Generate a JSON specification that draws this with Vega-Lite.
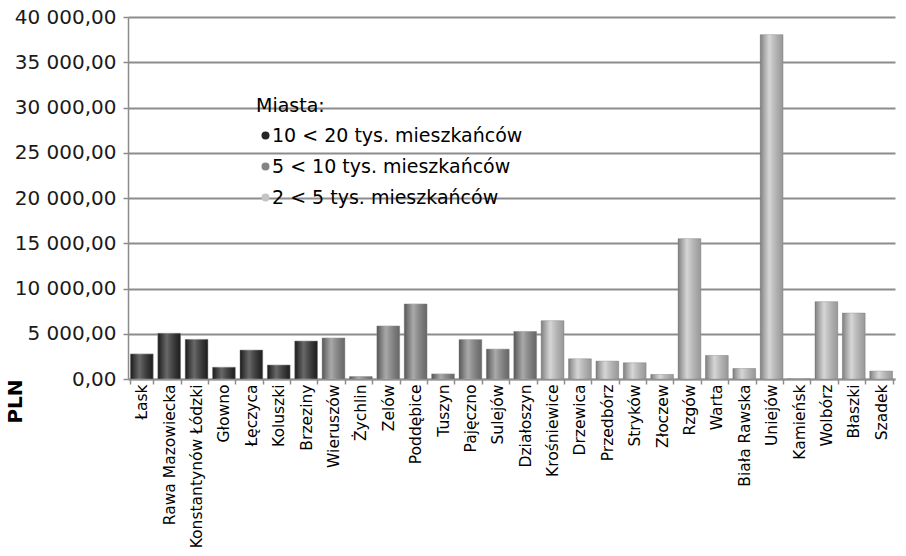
{
  "$schema": "https://vega.github.io/schema/vega-lite/v6.json",
  "autosize": "none",
  "width": 767,
  "height": 362,
  "padding": {"left": 128, "top": 17, "right": 11, "bottom": 177},
  "background": "white",
  "config": {
    "view": {"stroke": null},
    "locale": {"number": {"decimal": ",", "thousands": " ", "grouping": [3], "currency": ["", " zł"]}},
    "font": "DejaVu Sans"
  },
  "data": {
    "values": [
      {"miasto": "Łask", "grupa": "10 < 20 tys. mieszkańców", "pln": 2770},
      {"miasto": "Rawa Mazowiecka", "grupa": "10 < 20 tys. mieszkańców", "pln": 5050},
      {"miasto": "Konstantynów Łódzki", "grupa": "10 < 20 tys. mieszkańców", "pln": 4380},
      {"miasto": "Głowno", "grupa": "10 < 20 tys. mieszkańców", "pln": 1300},
      {"miasto": "Łęczyca", "grupa": "10 < 20 tys. mieszkańców", "pln": 3200},
      {"miasto": "Koluszki", "grupa": "10 < 20 tys. mieszkańców", "pln": 1550},
      {"miasto": "Brzeziny", "grupa": "10 < 20 tys. mieszkańców", "pln": 4200},
      {"miasto": "Wieruszów", "grupa": "5 < 10 tys. mieszkańców", "pln": 4530},
      {"miasto": "Żychlin", "grupa": "5 < 10 tys. mieszkańców", "pln": 270},
      {"miasto": "Zelów", "grupa": "5 < 10 tys. mieszkańców", "pln": 5860},
      {"miasto": "Poddębice", "grupa": "5 < 10 tys. mieszkańców", "pln": 8290},
      {"miasto": "Tuszyn", "grupa": "5 < 10 tys. mieszkańców", "pln": 560},
      {"miasto": "Pajęczno", "grupa": "5 < 10 tys. mieszkańców", "pln": 4350},
      {"miasto": "Sulejów", "grupa": "5 < 10 tys. mieszkańców", "pln": 3300},
      {"miasto": "Działoszyn", "grupa": "5 < 10 tys. mieszkańców", "pln": 5250},
      {"miasto": "Krośniewice", "grupa": "2 < 5 tys. mieszkańców", "pln": 6440},
      {"miasto": "Drzewica", "grupa": "2 < 5 tys. mieszkańców", "pln": 2230},
      {"miasto": "Przedbórz", "grupa": "2 < 5 tys. mieszkańców", "pln": 1970},
      {"miasto": "Stryków", "grupa": "2 < 5 tys. mieszkańców", "pln": 1790},
      {"miasto": "Złoczew", "grupa": "2 < 5 tys. mieszkańców", "pln": 500},
      {"miasto": "Rzgów", "grupa": "2 < 5 tys. mieszkańców", "pln": 15510},
      {"miasto": "Warta", "grupa": "2 < 5 tys. mieszkańców", "pln": 2600},
      {"miasto": "Biała Rawska", "grupa": "2 < 5 tys. mieszkańców", "pln": 1160},
      {"miasto": "Uniejów", "grupa": "2 < 5 tys. mieszkańców", "pln": 38050},
      {"miasto": "Kamieńsk", "grupa": "2 < 5 tys. mieszkańców", "pln": 30},
      {"miasto": "Wolbórz", "grupa": "2 < 5 tys. mieszkańców", "pln": 8540},
      {"miasto": "Błaszki", "grupa": "2 < 5 tys. mieszkańców", "pln": 7280},
      {"miasto": "Szadek", "grupa": "2 < 5 tys. mieszkańców", "pln": 870}
    ]
  },
  "encoding": {
    "x": {
      "field": "miasto", "type": "nominal", "sort": null,
      "scale": {"paddingInner": 0.17, "paddingOuter": 0.09},
      "axis": {
        "title": null, "labelAngle": -90, "labelFontSize": 15.5, "labelColor": "#000",
        "labelPadding": 0, "labelLimit": 300, "tickBand": "extent", "tickSize": 5, "tickColor": "#8c8c8c",
        "domainColor": "#8c8c8c", "domainWidth": 1.5, "tickWidth": 1.5, "grid": false
      }
    },
    "y": {
      "field": "pln", "type": "quantitative",
      "scale": {"domain": [0, 40000], "nice": false},
      "axis": {
        "title": "PLN", "titleFontSize": 20, "titleFontWeight": "bold", "titleColor": "#000",
        "titleX": -113, "titleY": 384, "titleAngle": -90, "titleAlign": "center", "titleBaseline": "middle",
        "values": [0, 5000, 10000, 15000, 20000, 25000, 30000, 35000, 40000],
        "format": ",.2f", "labelFontSize": 20, "labelColor": "#1a1a1a", "labelPadding": 7,
        "tickSize": 5, "tickColor": "#8c8c8c", "tickWidth": 1.5,
        "domainColor": "#8c8c8c", "domainWidth": 1.5,
        "grid": true, "gridColor": "#8c8c8c", "gridWidth": 2.2
      }
    }
  },
  "layer": [
    {
      "mark": {"type": "bar", "stroke": "#9a9a9a", "strokeWidth": 0.6},
      "encoding": {
        "color": {
          "field": "grupa", "type": "nominal",
          "scale": {
            "domain": ["10 < 20 tys. mieszkańców", "5 < 10 tys. mieszkańców", "2 < 5 tys. mieszkańców"],
            "range": ["#262626", "#848484", "#c4c4c4"]
          },
          "legend": {
            "title": "Miasta:", "orient": "none", "legendX": 128, "legendY": 80,
            "titleFontSize": 19, "titleFontWeight": "normal", "titleColor": "#000", "titlePadding": 10,
            "labelFontSize": 19, "labelColor": "#000", "labelOffset": -3, "labelLimit": 400,
            "symbolType": "circle", "symbolSize": 64, "symbolStrokeWidth": 0,
            "rowPadding": 11, "padding": 0
          }
        }
      }
    },
    {
      "mark": {
        "type": "bar",
        "color": {
          "gradient": "linear", "x1": 0, "x2": 1, "y1": 0, "y2": 0,
          "stops": [
            {"offset": 0, "color": "rgba(0,0,0,0.35)"},
            {"offset": 0.4, "color": "rgba(255,255,255,0.3)"},
            {"offset": 1, "color": "rgba(0,0,0,0.22)"}
          ]
        }
      }
    }
  ]
}
